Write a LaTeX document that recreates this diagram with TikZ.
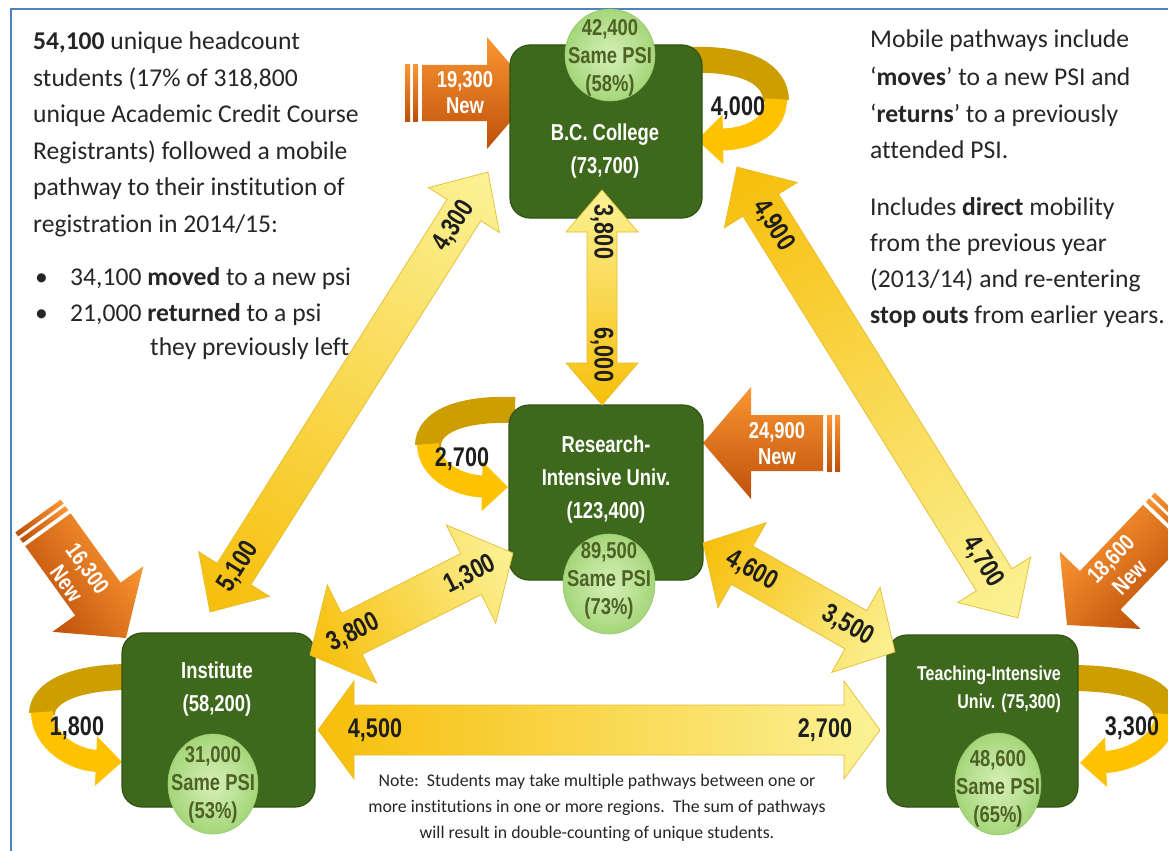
\documentclass[tikz,border=0pt]{standalone}
\usepackage{fontspec}
\setmainfont[Ligatures={TeX,NoCommon}]{Carlito}
\newfontfamily\nar[FakeStretch=0.8]{Liberation Sans}
\usetikzlibrary{arrows.meta,shapes.geometric}
\definecolor{boxgreen}{RGB}{62,104,28}
\definecolor{boxedge}{RGB}{48,84,20}
\definecolor{psiin}{RGB}{214,240,184}
\definecolor{psiout}{RGB}{165,214,122}
\definecolor{psiedge}{RGB}{150,200,110}
\definecolor{psitext}{RGB}{78,98,38}
\definecolor{gold}{RGB}{247,190,10}
\definecolor{pale}{RGB}{251,242,150}
\definecolor{arrowedge}{RGB}{228,190,50}
\definecolor{loopdark}{RGB}{204,158,0}
\definecolor{loopbright}{RGB}{255,194,0}
\definecolor{orlight}{RGB}{250,150,50}
\definecolor{ordark}{RGB}{190,80,10}
\definecolor{framecol}{RGB}{79,129,189}
\definecolor{numtext}{RGB}{30,30,30}
\definecolor{bodytext}{RGB}{38,38,38}

% geometry of double arrows
\newcommand\setgeom[5]{\def\dsw{#1}\def\dhw{#2}\def\dhl{#3}\def\dla{#4}\def\dlb{#5}}
% double block arrow: x1 y1 x2 y2 colA colB labA labB
\newcommand\dblarrow[8]{%
  \pgfmathsetmacro\dang{atan2(-(#4-#2),#3-#1)}%
  \pgfmathsetmacro\dlen{veclen(#3-#1,#4-#2)}%
  \begin{scope}[transform canvas={shift={(#1,#2)},rotate=\dang}]
    \shade[left color=#5,right color=#6,draw=arrowedge,line width=0.7]
      (0,0) -- (\dhl,-\dhw) -- (\dhl,-\dsw) -- (\dlen-\dhl,-\dsw) -- (\dlen-\dhl,-\dhw)
      -- (\dlen,0) -- (\dlen-\dhl,\dhw) -- (\dlen-\dhl,\dsw) -- (\dhl,\dsw) -- (\dhl,\dhw) -- cycle;
    \node[numlab] at (\dla,0) {#7};
    \node[numlab] at (\dlen-\dlb,0) {#8};
  \end{scope}}
% orange "new" arrow: tail x y, tip x y, shading
\def\ohw{56}\def\obw{28}\def\ohl{48}
\newcommand\newarrow[5]{%
  \pgfmathsetmacro\dang{atan2(-(#4-#2),#3-#1)}%
  \pgfmathsetmacro\dlen{veclen(#3-#1,#4-#2)}%
  \begin{scope}[transform canvas={shift={(#1,#2)},rotate=\dang}]
    \shade[#5] (0,-\obw) rectangle (5,\obw);
    \shade[#5] (8,-\obw) rectangle (13,\obw);
    \shade[#5] (17,-\obw) -- (\dlen-\ohl,-\obw) -- (\dlen-\ohl,-\ohw) -- (\dlen,0)
      -- (\dlen-\ohl,\ohw) -- (\dlen-\ohl,\obw) -- (17,\obw) -- cycle;
  \end{scope}}

\begin{document}
\begin{tikzpicture}[x=1pt,y=-1pt,
  numlab/.style={font={\nar\bfseries\fontsize{27}{27}\selectfont},text=numtext,inner sep=0},
  boxlab/.style={font={\nar\bfseries\fontsize{23}{33}\selectfont},text=white,align=center,inner sep=0},
  psilab/.style={font={\nar\bfseries\fontsize{23}{28}\selectfont},text=psitext,align=center,inner sep=0},
  newlab/.style={font={\nar\bfseries\fontsize{23}{26}\selectfont},text=white,align=center,inner sep=0},
  gbox/.style={rounded corners=20,fill=boxgreen,draw=boxedge,line width=1.2,inner sep=0},
  psiell/.style={ellipse,inner color=psiin,outer color=psiout,draw=psiedge,line width=0.6,inner sep=0},
  loopd/.style={loopdark,line width=26},
  loopb/.style={loopbright,line width=22,-{Triangle[length=26pt,width=48pt]}},
  body/.style={font={\fontsize{25.6}{37}\selectfont},text=bodytext,anchor=base west,inner sep=0},
  note/.style={font={\fontsize{17.8}{26}\selectfont},text=bodytext,anchor=base,inner sep=0}]

\fill[white] (0,0) rectangle (1168,851);
\useasboundingbox (0,0) rectangle (1168,851);
\draw[framecol,line width=2] (11,851) -- (11,9) -- (1168,9);

% self loops
\draw[loopd] (690,60) .. controls (748,58) and (776,75) .. (776,101);
\draw[loopb] (776,99) .. controls (776,125) and (752,139) .. (697,140);
\draw[loopd] (515,410) .. controls (460,408) and (428,422) .. (428,446);
\draw[loopb] (428,444) .. controls (428,470) and (458,486) .. (508,487);
\draw[loopd] (130,677) .. controls (75,677) and (42,692) .. (42,714);
\draw[loopb] (42,712) .. controls (42,740) and (72,760) .. (122,762);
\draw[loopd] (1070,678) .. controls (1135,678) and (1166,693) .. (1166,716);
\draw[loopb] (1166,714) .. controls (1166,742) and (1132,761) .. (1080,763);

% new-student arrows
\newarrow{405}{93}{535}{93}{top color=orlight,bottom color=ordark}
\newarrow{840}{443}{703}{443}{top color=ordark,bottom color=orlight}
\newarrow{38}{516}{126}{638}{top color=orlight,bottom color=ordark}
\newarrow{1175}{512}{1067}{625}{top color=ordark,bottom color=orlight}

% institutions
\node[gbox,minimum width=192,minimum height=173] (bc) at (606,131.5) {};
\node[gbox,minimum width=194,minimum height=175] (riu) at (606,492.5) {};
\node[gbox,minimum width=193,minimum height=174] (inst) at (218.5,720) {};
\node[gbox,minimum width=191,minimum height=172] (tiu) at (982.5,721) {};

% pathways
\setgeom{15}{36}{42}{42}{50}
\dblarrow{602}{190}{602}{405}{pale}{gold}{3,800}{6,000}
\setgeom{20}{42}{45}{53}{64}
\dblarrow{210}{612}{488}{172}{gold}{pale}{5,100}{4,300}
\setgeom{21}{43}{45}{69}{66}
\dblarrow{737}{167}{1018}{618}{gold}{pale}{4,900}{4,700}
\setgeom{23}{55}{47}{49}{48}
\dblarrow{310}{655}{513}{553}{gold}{pale}{3,800}{1,300}
\setgeom{22}{49}{45}{56}{54}
\dblarrow{703}{543}{895}{652}{gold}{pale}{4,600}{3,500}
\setgeom{25}{49}{36}{57}{55}
\dblarrow{318}{730}{880}{730}{gold}{pale}{4,500}{2,700}

% same-PSI ellipses
\node[psiell,minimum width=90,minimum height=92] (bce) at (610,55) {};
\node[psiell,minimum width=92,minimum height=100] (riue) at (609,584) {};
\node[psiell,minimum width=90,minimum height=100] (inste) at (213,784) {};
\node[psiell,minimum width=86,minimum height=102] (tiue) at (998,784) {};
\node[psilab] at (610,58) {42,400\\Same PSI\\(58\%)};
\node[psilab] at (609,581) {89,500\\Same PSI\\(73\%)};
\node[psilab] at (213,785) {31,000\\Same PSI\\(53\%)};
\node[psilab] at (998,789) {48,600\\Same PSI\\(65\%)};

% institution labels
\node[boxlab] at (605,151) {B.C. College\\(73,700)};
\node[boxlab] at (606,480) {Research-\\Intensive Univ.\\(123,400)};
\node[boxlab] at (217,689) {Institute\\(58,200)};
\node[boxlab,align=right,font={\nar\bfseries\fontsize{20}{28}\selectfont}] at (989,689) {Teaching-Intensive\\Univ. (75,300)};

% loop labels
\node[numlab] at (738,108) {4,000};
\node[numlab] at (462,459) {2,700};
\node[numlab] at (77,728) {1,800};
\node[numlab] at (1132,728) {3,300};

% new labels
\node[newlab] at (465,93) {19,300\\New};
\node[newlab] at (777,444) {24,900\\New};
\node[newlab,rotate=-54] at (77,576) {16,300\\New};
\node[newlab,rotate=46] at (1120,568) {18,600\\New};

% left text
\node[body] at (33,49.5) {\textbf{54,100} unique headcount};
\node[body] at (33,86) {students (17\% of 318,800};
\node[body] at (33,122.5) {unique Academic Credit Course};
\node[body] at (33,159) {Registrants) followed a mobile};
\node[body] at (33,195.5) {pathway to their institution of};
\node[body] at (33,232) {registration in 2014/15:};
\node[body] at (35,285) {•};
\node[body] at (70,285) {34,100 \textbf{moved} to a new psi};
\node[body] at (35,321.5) {•};
\node[body] at (70,321.5) {21,000 \textbf{returned} to a psi};
\node[body] at (150,355) {they previously left};

% right text
\node[body] at (870,48) {Mobile pathways include};
\node[body] at (870,85) {‘\textbf{moves}’ to a new PSI and};
\node[body] at (870,122) {‘\textbf{returns}’ to a previously};
\node[body] at (870,158) {attended PSI.};
\node[body] at (870,215) {Includes \textbf{direct} mobility};
\node[body] at (870,251) {from the previous year};
\node[body] at (870,287) {(2013/14) and re-entering};
\node[body] at (870,323) {\textbf{stop outs} from earlier years.};

% note
\node[note] at (597,786) {Note:\ \ Students may take multiple pathways between one or};
\node[note] at (597,812) {more institutions in one or more regions.\ \ The sum of pathways};
\node[note] at (597,838) {will result in double-counting of unique students.};
\end{tikzpicture}
\end{document}
